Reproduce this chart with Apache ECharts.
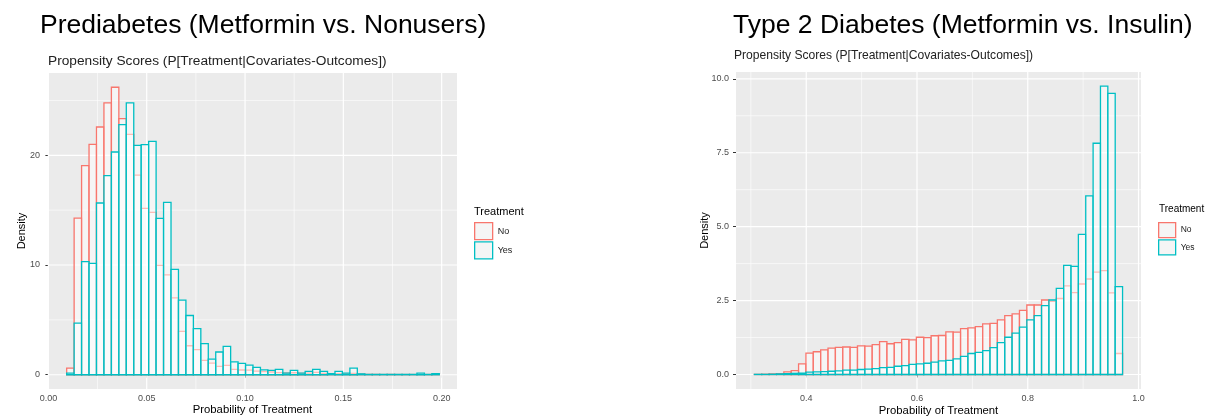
<!DOCTYPE html>
<html>
<head>
<meta charset="utf-8">
<title>Propensity score histograms</title>
<script src="https://cdn.jsdelivr.net/npm/echarts@6/dist/echarts.min.js"></script>
<style>
  html, body { margin: 0; padding: 0; background: #ffffff; }
  #chart { width: 1211px; height: 417px; }
</style>
</head>
<body>
<div id="chart"></div>
<script>
// ---- Prediabetes (Metformin vs. Nonusers): 50 equal-width bins ----
const pdBinRange = [0.0093, 0.1988];
const pdNo = [0.60, 14.28, 19.05, 21.00, 22.58, 24.77, 26.20, 23.34, 21.90, 18.20,
              15.16, 14.80, 9.96, 9.10, 7.00, 3.95, 2.64, 2.28, 1.30, 1.06,
              0.76, 0.85, 0.49, 0.43, 0.42, 0.33, 0.28, 0.25, 0.20, 0.14,
              0.18, 0.12, 0.14, 0.22, 0.12, 0.08, 0.10, 0.10, 0.12, 0.05,
              0.03, 0.03, 0.02, 0.03, 0.02, 0.02, 0.02, 0.03, 0.02, 0.05];
const pdYes = [0.15, 4.71, 10.30, 10.15, 15.65, 18.14, 20.30, 22.80, 24.77, 20.90,
               20.97, 21.27, 14.25, 15.70, 9.60, 6.80, 5.40, 4.20, 2.83, 1.43,
               2.07, 2.58, 1.18, 1.03, 0.88, 0.67, 0.45, 0.39, 0.48, 0.15,
               0.39, 0.15, 0.30, 0.48, 0.30, 0.10, 0.30, 0.15, 0.60, 0.08,
               0.03, 0.03, 0.03, 0.03, 0.03, 0.03, 0.03, 0.15, 0.03, 0.10];

// ---- Type 2 Diabetes (Metformin vs. Insulin): 50 equal-width bins ----
const t2dBinRange = [0.3064, 0.9712];
const t2dNo = [0.005, 0.01, 0.02, 0.03, 0.09, 0.13, 0.36, 0.72, 0.77, 0.83,
               0.89, 0.92, 0.93, 0.92, 0.97, 0.96, 1.01, 1.11, 1.04, 1.08,
               1.19, 1.17, 1.26, 1.25, 1.31, 1.32, 1.44, 1.43, 1.55, 1.58,
               1.62, 1.71, 1.73, 1.85, 1.99, 2.05, 2.17, 2.35, 2.35, 2.52,
               2.47, 2.57, 3.00, 2.77, 3.06, 3.23, 3.46, 3.51, 2.76, 0.71];
const t2dYes = [0.005, 0.005, 0.01, 0.02, 0.03, 0.04, 0.05, 0.08, 0.09, 0.10,
                0.11, 0.12, 0.15, 0.15, 0.17, 0.18, 0.20, 0.23, 0.24, 0.28,
                0.30, 0.34, 0.36, 0.38, 0.42, 0.46, 0.48, 0.53, 0.61, 0.71,
                0.75, 0.81, 0.91, 1.08, 1.26, 1.40, 1.60, 1.85, 1.99, 2.33,
                2.52, 2.91, 3.69, 3.66, 4.74, 6.04, 7.82, 9.75, 9.51, 2.97];

// ---- Axis ticks and gridlines ----
const pdXTicks = [0, 0.05, 0.10, 0.15, 0.20];
const pdXMinor = [0.025, 0.075, 0.125, 0.175];
const pdYTicks = [0, 10, 20];
const pdYMinor = [5, 15, 25];
const t2dXTicks = [0.4, 0.6, 0.8, 1.0];
const t2dXMinor = [0.3, 0.5, 0.7, 0.9];
const t2dYTicks = [0, 2.5, 5, 7.5, 10];
const t2dYMinor = [1.25, 3.75, 6.25, 8.75];

const FONT = "'Liberation Sans', Arial, Helvetica, sans-serif";
const COL_NO = '#F8766D';
const COL_YES = '#00BFC4';
const BAR_FILL = 'rgba(255,255,255,0.5)';

// turn a list of densities into [start, end, density] rows
function toBins(range, values) {
  const w = (range[1] - range[0]) / values.length;
  return values.map((v, i) => [range[0] + i * w, range[0] + (i + 1) * w, v]);
}

function histSeries(name, idx, range, values, color) {
  return {
    name: name,
    type: 'custom',
    xAxisIndex: idx,
    yAxisIndex: idx,
    z: 3,
    silent: true,
    data: toBins(range, values),
    renderItem: function (params, api) {
      const top = api.coord([api.value(0), api.value(2)]);
      const base = api.coord([api.value(1), 0]);
      return {
        type: 'rect',
        shape: { x: top[0], y: top[1], width: base[0] - top[0], height: base[1] - top[1] },
        style: { fill: BAR_FILL, stroke: color, lineWidth: 1.3 }
      };
    }
  };
}

// white panel gridlines drawn through the axes' scales
function gridSeries(idx, values, dir, width, refX) {
  return {
    type: 'custom',
    name: 'grid-' + dir + '-' + idx,
    xAxisIndex: idx,
    yAxisIndex: idx,
    z: 1,
    silent: true,
    data: values.map(v => [v, v]),
    renderItem: function (params, api) {
      const cs = params.coordSys;
      const v = api.value(0);
      if (dir === 'x') {
        const x = api.coord([v, 0])[0];
        return { type: 'line', shape: { x1: x, y1: cs.y, x2: x, y2: cs.y + cs.height },
                 style: { stroke: '#ffffff', lineWidth: width } };
      }
      const y = api.coord([refX, v])[1];
      return { type: 'line', shape: { x1: cs.x, y1: y, x2: cs.x + cs.width, y2: y },
               style: { stroke: '#ffffff', lineWidth: width } };
    }
  };
}

function xAxisOf(idx, min, max, ticks, digits, nameGap) {
  return {
    gridIndex: idx, type: 'value', min: min, max: max,
    axisLine: { show: false },
    splitLine: { show: false },
    axisTick: { show: true, length: 3, customValues: ticks, lineStyle: { color: '#333333', width: 1 } },
    axisLabel: { customValues: ticks, formatter: v => Number(v).toFixed(digits),
                 color: '#4d4d4d', fontSize: 9, fontFamily: FONT, margin: 5 },
    name: 'Probability of Treatment', nameLocation: 'middle', nameGap: nameGap,
    nameMoveOverlap: false,
    nameTextStyle: { color: '#000000', fontSize: 11.3, fontFamily: FONT }
  };
}

function yAxisOf(idx, min, max, ticks, digits, nameGap, margin) {
  return {
    gridIndex: idx, type: 'value', min: min, max: max,
    axisLine: { show: false },
    splitLine: { show: false },
    axisTick: { show: true, length: 3, customValues: ticks, lineStyle: { color: '#333333', width: 1 } },
    axisLabel: { customValues: ticks, formatter: v => Number(v).toFixed(digits),
                 color: '#4d4d4d', fontSize: 9, fontFamily: FONT, margin: margin },
    name: 'Density', nameLocation: 'middle', nameRotate: 90, nameGap: nameGap,
    nameMoveOverlap: false,
    nameTextStyle: { color: '#000000', fontSize: 11, fontFamily: FONT }
  };
}

function legendOf(left, top, w, h, fontSize) {
  const item = (name, color) => ({ name: name, icon: 'rect',
    itemStyle: { color: '#f5f5f5', borderColor: color, borderWidth: 1.3 } });
  return {
    left: left, top: top, orient: 'vertical', padding: 0,
    itemWidth: w, itemHeight: h, itemGap: 1, selectedMode: false,
    textStyle: { fontSize: fontSize, color: '#1a1a1a', fontFamily: FONT },
    data: [item('No', COL_NO), item('Yes', COL_YES)]
  };
}

function titleOf(text, left, top, size, color) {
  return { text: text, left: left, top: top, padding: 0,
           textStyle: { fontSize: size, fontWeight: 'normal', color: color, fontFamily: FONT } };
}

const chart = echarts.init(document.getElementById('chart'), null, { renderer: 'canvas' });

chart.setOption({
  backgroundColor: '#ffffff',
  animation: false,
  title: [
    titleOf('Prediabetes (Metformin vs. Nonusers)', 40, 12.5, 26.5, '#000000'),
    titleOf('Propensity Scores (P[Treatment|Covariates-Outcomes])', 48, 54.5, 13.7, '#222222'),
    titleOf('Type 2 Diabetes (Metformin vs. Insulin)', 733, 12.5, 26.5, '#000000'),
    titleOf('Propensity Scores (P[Treatment|Covariates-Outcomes])', 734, 50, 12.1, '#222222'),
    titleOf('Treatment', 474, 206, 11, '#000000'),
    titleOf('Treatment', 1159, 204, 10, '#000000')
  ],
  legend: [
    legendOf(474, 222, 18, 17, 9),
    legendOf(1158, 222, 17, 15, 8.5)
  ],
  grid: [
    { left: 48, top: 73, width: 409, height: 316, show: true, backgroundColor: '#ebebeb',
      borderWidth: 0, outerBoundsMode: 'none', containLabel: false },
    { left: 736, top: 72, width: 405, height: 317, show: true, backgroundColor: '#ebebeb',
      borderWidth: 0, outerBoundsMode: 'none', containLabel: false }
  ],
  xAxis: [
    xAxisOf(0, -0.0002, 0.2078, pdXTicks, 2, 15.5),
    xAxisOf(1, 0.2732, 1.0045, t2dXTicks, 1, 16.5)
  ],
  yAxis: [
    yAxisOf(0, -1.3, 27.5, pdYTicks, 0, 20.5, 8),
    yAxisOf(1, -0.49, 10.23, t2dYTicks, 1, 26, 7)
  ],
  series: [
    gridSeries(0, pdXMinor, 'x', 0.6, 0.1),
    gridSeries(0, pdYMinor, 'y', 0.6, 0.1),
    gridSeries(0, pdXTicks, 'x', 1.2, 0.1),
    gridSeries(0, pdYTicks, 'y', 1.2, 0.1),
    gridSeries(1, t2dXMinor, 'x', 0.6, 0.6),
    gridSeries(1, t2dYMinor, 'y', 0.6, 0.6),
    gridSeries(1, t2dXTicks, 'x', 1.2, 0.6),
    gridSeries(1, t2dYTicks, 'y', 1.2, 0.6),
    histSeries('No', 0, pdBinRange, pdNo, COL_NO),
    histSeries('Yes', 0, pdBinRange, pdYes, COL_YES),
    histSeries('No', 1, t2dBinRange, t2dNo, COL_NO),
    histSeries('Yes', 1, t2dBinRange, t2dYes, COL_YES)
  ]
});
</script>
</body>
</html>
